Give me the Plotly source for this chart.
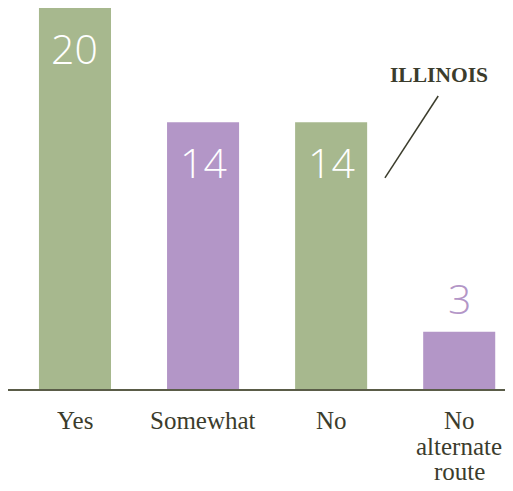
import plotly.graph_objects as go

categories = ["Yes", "Somewhat", "No", "No alternate route"]
category_lines = [["Yes"], ["Somewhat"], ["No"], ["No", "alternate", "route"]]
values = [20, 14, 14, 3]
bar_colors = ["#a7b88e", "#b396c7", "#a7b88e", "#b396c7"]
label_text = ["20", "14", "14", "3"]
label_inside = [True, True, True, False]

text_dark = "#3b3c2c"

fig = go.Figure()
fig.add_trace(go.Bar(
    x=categories, y=values,
    marker=dict(color=bar_colors, line=dict(width=0)),
    width=0.5625,
    hoverinfo="skip",
))

# value labels
for c, v, t, inside, col in zip(categories, values, label_text, label_inside, bar_colors):
    fig.add_annotation(
        x=c, y=v, text=t, showarrow=False,
        xref="x", yref="y",
        yanchor="top" if inside else "bottom",
        yshift=-10 if inside else 4,
        font=dict(family="Open Sans", size=41, color="white" if inside else col, weight=300),
    )

# category labels (one annotation per line for tight line spacing)
for c, lines in zip(categories, category_lines):
    for i, ln in enumerate(lines):
        fig.add_annotation(
            x=c, y=0, xref="x", yref="y", text=ln, showarrow=False,
            yanchor="bottom", height=25, valign="middle",
            yshift=-(46 + 25.5 * i),
            font=dict(family="Liberation Serif", size=25, color=text_dark),
        )

fig.add_annotation(
    x=2.84, y=16.48, xref="x", yref="y", text="<b>ILLINOIS</b>", showarrow=False,
    font=dict(family="Liberation Serif", size=21.5, color=text_dark),
    xanchor="center", yanchor="middle",
)
fig.add_shape(type="line", xref="x", yref="y", x0=2.42, y0=11.08, x1=2.836, y1=15.38,
              line=dict(color=text_dark, width=1.5))

fig.update_layout(
    width=505, height=483,
    margin=dict(l=0, r=0, t=0, b=102),
    paper_bgcolor="white", plot_bgcolor="white",
    showlegend=False,
    xaxis=dict(
        range=[-0.523, 3.42], showgrid=False, zeroline=False,
        showline=True, linecolor="#5a5c48", linewidth=2,
        showticklabels=False, ticks="",
        fixedrange=True,
    ),
    yaxis=dict(range=[0, 20], visible=False, fixedrange=True),
)

fig.write_html("out.html")
